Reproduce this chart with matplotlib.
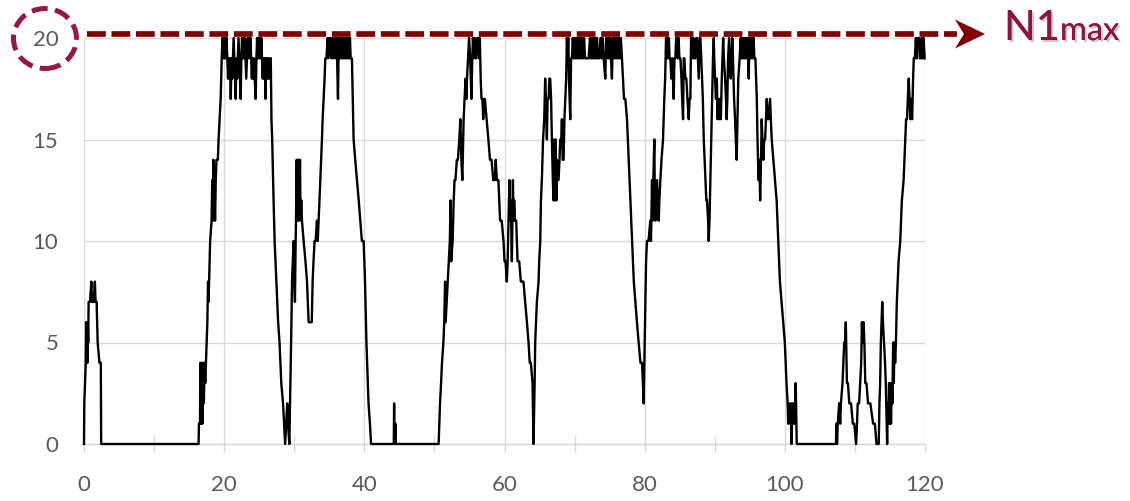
import matplotlib.pyplot as plt
from matplotlib.lines import Line2D
from matplotlib.patches import Ellipse, Polygon
import matplotlib.patheffects as pe

plt.rcParams['font.family'] = ['Lato', 'DejaVu Sans']

# N1 trace: (time, N1)
n1_trace = [
    # first small bump
    (0.0, 0), (0.04, 2), (0.25, 4), (0.3, 6), (0.36, 4), (0.42, 6), (0.48, 4), (0.54, 6),
    (0.6, 5), (0.66, 7), (0.85, 7), (1.05, 8), (1.15, 7), (1.4, 7), (1.55, 8), (1.65, 7),
    (1.8, 7), (1.95, 5), (2.2, 4), (2.4, 4), (2.45, 0),
    (16.35, 0),
    # rise to max
    (16.4, 1), (16.55, 1), (16.6, 4), (16.7, 1), (16.8, 4), (16.9, 1), (17.0, 4), (17.1, 2),
    (17.2, 4), (17.3, 3), (17.4, 4), (17.5, 5), (17.6, 6), (17.7, 8), (17.75, 7), (17.85, 8),
    (18.0, 10), (18.2, 11), (18.3, 13), (18.4, 11), (18.45, 14), (18.55, 12), (18.6, 13),
    (18.7, 11), (18.8, 13), (18.9, 14), (19.1, 14), (19.2, 15), (19.35, 16), (19.5, 17),
    (19.65, 19), (19.75, 20),
    (19.85, 19), (19.95, 20), (20.05, 19), (20.15, 20), (20.25, 19), (20.35, 20), (20.45, 19),
    (20.55, 18), (20.65, 19), (20.75, 18), (20.85, 19), (20.94, 17), (21.05, 19), (21.15, 18),
    (21.25, 19), (21.35, 20), (21.45, 19), (21.55, 18), (21.65, 17), (21.75, 19), (21.85, 18),
    (21.95, 19), (22.05, 20), (22.15, 19), (22.25, 18), (22.36, 17), (22.45, 19), (22.55, 20),
    (22.65, 19), (22.75, 20), (22.85, 19), (22.95, 20), (23.05, 19), (23.15, 18), (23.25, 19),
    (23.35, 20), (23.45, 19), (23.55, 20), (23.65, 19), (23.75, 20), (23.85, 19), (23.95, 18),
    (24.05, 19), (24.15, 18), (24.25, 19), (24.35, 18), (24.5, 17), (24.6, 19), (24.7, 20),
    (24.8, 19), (24.9, 20), (25.0, 19), (25.1, 20), (25.2, 19), (25.3, 20), (25.4, 19),
    (25.5, 18), (25.6, 19), (25.7, 18), (25.8, 19), (25.9, 17), (26.0, 19), (26.1, 18),
    (26.2, 19), (26.3, 18), (26.45, 19), (26.55, 18), (26.65, 19),
    # fall
    (26.75, 16), (26.85, 15), (27.05, 12), (27.2, 10), (27.45, 8), (27.7, 6), (27.9, 5),
    (28.15, 3), (28.4, 2), (28.55, 1), (28.7, 0), (28.85, 1), (29.0, 2), (29.1, 1), (29.3, 0),
    (29.4, 2), (29.5, 4),
    # second peak
    (29.6, 6), (29.68, 8), (29.8, 9), (29.91, 10), (30.0, 8), (30.1, 7), (30.2, 10), (30.25, 11),
    (30.35, 14), (30.42, 11), (30.5, 14), (30.58, 11), (30.66, 14), (30.74, 12), (30.82, 14),
    (30.9, 11), (31.0, 12), (31.1, 11), (31.34, 10), (31.6, 9), (31.82, 8), (32.05, 6),
    (32.5, 6), (32.62, 8), (32.75, 9), (32.9, 10), (33.05, 10), (33.24, 11), (33.35, 10),
    (33.48, 11), (33.6, 12), (33.72, 13), (33.85, 14), (33.95, 15), (34.05, 16), (34.19, 17),
    (34.33, 18), (34.43, 19), (34.6, 19), (34.75, 20), (34.85, 19), (35.0, 20), (35.14, 20),
    (35.3, 19), (35.45, 20), (35.6, 19), (35.75, 20), (35.9, 19), (36.05, 20), (36.24, 17),
    (36.35, 20), (36.45, 19), (36.55, 20), (36.65, 19), (36.75, 20), (36.85, 19), (36.95, 20),
    (37.05, 19), (37.15, 20), (37.25, 19), (37.35, 20), (37.45, 19), (37.55, 20), (37.65, 19),
    (37.75, 20), (37.85, 19), (37.95, 20), (38.05, 19), (38.23, 19),
    (38.35, 17), (38.47, 15), (38.7, 14), (38.95, 13), (39.2, 12), (39.42, 11), (39.65, 10),
    (39.9, 10), (40.1, 8), (40.3, 5), (40.5, 3), (40.6, 2), (40.8, 1), (40.96, 0),
    (44.2, 0), (44.25, 2), (44.3, 0), (44.35, 1), (44.4, 0), (44.45, 1), (44.5, 0),
    (50.6, 0),
    # third peak
    (50.7, 1), (50.8, 2), (50.95, 3), (51.08, 4), (51.28, 5), (51.4, 6), (51.52, 8), (51.6, 6),
    (51.75, 7), (52.05, 9), (52.2, 10), (52.3, 12), (52.4, 9), (52.6, 10), (52.75, 12),
    (52.87, 13), (53.0, 13), (53.2, 14), (53.35, 14), (53.55, 15), (53.7, 16), (53.85, 14),
    (53.98, 13), (54.1, 15), (54.17, 16), (54.3, 17), (54.45, 18), (54.55, 17), (54.65, 18),
    (54.8, 19), (54.94, 20), (55.1, 19), (55.28, 17), (55.4, 19), (55.5, 20), (55.6, 19),
    (55.75, 20), (55.9, 19), (56.0, 19), (56.1, 20), (56.24, 20), (56.4, 19), (56.48, 20),
    (56.6, 18), (56.72, 17), (56.85, 17), (56.96, 16), (57.1, 17), (57.2, 17), (57.45, 16),
    (57.7, 15), (57.93, 14), (58.15, 14), (58.4, 13), (58.6, 13), (58.75, 14), (58.9, 13),
    (59.13, 13), (59.25, 12), (59.37, 11), (59.6, 11), (59.86, 10),
    (60.0, 9), (60.15, 9), (60.33, 8), (60.45, 9), (60.57, 11), (60.71, 13), (60.8, 11),
    (60.9, 12), (61.05, 9), (61.2, 13), (61.3, 11), (61.38, 12), (61.5, 11), (61.67, 11),
    (61.86, 9), (62.1, 9), (62.33, 8), (62.7, 8), (62.95, 7), (63.2, 6), (63.43, 5), (63.6, 4),
    (63.76, 4), (64.0, 3), (64.14, 0), (64.3, 3), (64.38, 5), (64.5, 6), (64.62, 7),
    (64.86, 8), (64.95, 9), (65.1, 10), (65.2, 12), (65.33, 13), (65.5, 15), (65.67, 16),
    (65.8, 18), (65.9, 17), (66.05, 15), (66.15, 17), (66.29, 17), (66.4, 18), (66.52, 18),
    (66.65, 17), (66.76, 15), (66.9, 13), (67.0, 12), (67.1, 15), (67.2, 12), (67.3, 15),
    (67.4, 12), (67.48, 14), (67.6, 13), (67.71, 13), (67.85, 14), (67.95, 15), (68.1, 15),
    (68.19, 16), (68.3, 14), (68.43, 14), (68.55, 16), (68.67, 17), (68.8, 18), (68.9, 20),
    (69.0, 19), (69.1, 20), (69.2, 18), (69.38, 16), (69.5, 19), (69.62, 19), (69.75, 20),
    (69.85, 19), (69.95, 20), (70.05, 19), (70.15, 20), (70.25, 19), (70.35, 20), (70.45, 19),
    (70.55, 20), (70.65, 19), (70.75, 20), (70.85, 19), (70.95, 20), (71.05, 19), (71.15, 20),
    (71.25, 19), (71.35, 20), (71.5, 19), (71.76, 19), (72.0, 19), (72.2, 20), (72.3, 19),
    (72.4, 20), (72.5, 19), (72.6, 20), (72.7, 19), (72.8, 20), (72.9, 19), (73.0, 20),
    (73.1, 19), (73.2, 20), (73.3, 19), (73.5, 19), (73.7, 20), (73.85, 19), (74.0, 20),
    (74.15, 19), (74.38, 18), (74.5, 20), (74.62, 20), (74.75, 19), (74.85, 20), (74.95, 19),
    (75.1, 20), (75.2, 19), (75.33, 18), (75.45, 20), (75.57, 20), (75.7, 19), (75.8, 20),
    (75.9, 19), (76.0, 20), (76.1, 19), (76.2, 20), (76.3, 19), (76.4, 20), (76.5, 19),
    (76.6, 20), (76.76, 19),
    (76.9, 18), (77.05, 17), (77.24, 17), (77.48, 16), (77.6, 15), (77.71, 14), (77.95, 12),
    (78.19, 10), (78.45, 8), (78.67, 7), (78.9, 6), (79.14, 5), (79.4, 4), (79.62, 4),
    (79.75, 3), (79.86, 2), (79.95, 4), (80.1, 7), (80.2, 9), (80.33, 10), (80.55, 10),
    (80.8, 11), (80.9, 10), (81.05, 13), (81.12, 11), (81.19, 12), (81.3, 14), (81.38, 15),
    (81.45, 12), (81.52, 11), (81.65, 12), (81.76, 13), (81.9, 12), (82.0, 11), (82.1, 12),
    (82.24, 13), (82.4, 14), (82.62, 15), (82.8, 17), (82.92, 18), (83.05, 20),
    (83.15, 19), (83.25, 20), (83.35, 19), (83.45, 20), (83.55, 19), (83.67, 19), (83.8, 18),
    (83.95, 19), (84.05, 18), (84.14, 17), (84.25, 19), (84.38, 19), (84.5, 20), (84.62, 20),
    (84.75, 19), (84.85, 20), (84.95, 19), (85.1, 19), (85.25, 18), (85.35, 17), (85.48, 16),
    (85.57, 19), (85.67, 19), (85.8, 18), (85.95, 18), (86.1, 17), (86.29, 16), (86.4, 17),
    (86.52, 17), (86.62, 20), (86.76, 20), (86.85, 19), (86.95, 20), (87.05, 19), (87.24, 19),
    (87.35, 20), (87.48, 20), (87.6, 19), (87.71, 18), (87.85, 20), (87.95, 20), (88.08, 19),
    (88.19, 18), (88.3, 17), (88.43, 15), (88.55, 14), (88.67, 13), (88.8, 12), (88.9, 12),
    (89.05, 11), (89.14, 10), (89.25, 11), (89.38, 13), (89.5, 15), (89.62, 17), (89.75, 19),
    (89.86, 20),
    (89.93, 19), (90.05, 18), (90.17, 17), (90.3, 18), (90.4, 16), (90.5, 17), (90.64, 16),
    (90.75, 17), (90.87, 16), (91.0, 18), (91.1, 19), (91.2, 20), (91.3, 19), (91.48, 18),
    (91.6, 17), (91.7, 16), (91.8, 17), (91.9, 19), (92.05, 20), (92.15, 19), (92.28, 18),
    (92.4, 19), (92.5, 20), (92.6, 19), (92.76, 17), (92.9, 16), (93.0, 15), (93.13, 14),
    (93.25, 16), (93.36, 18), (93.55, 19), (93.7, 20), (93.8, 19), (93.9, 20), (94.0, 19),
    (94.1, 20), (94.2, 19), (94.3, 20), (94.4, 19), (94.5, 20), (94.6, 19), (94.7, 20),
    (94.85, 18), (94.95, 20), (95.05, 19), (95.15, 20), (95.25, 19), (95.35, 20), (95.45, 19),
    (95.55, 20), (95.65, 19), (95.8, 19), (96.0, 17), (96.1, 15), (96.25, 13), (96.35, 14),
    (96.48, 12), (96.6, 14), (96.7, 16), (96.8, 15), (96.95, 14), (97.05, 15), (97.19, 15),
    (97.3, 16), (97.42, 17), (97.55, 16), (97.66, 16), (97.9, 17), (98.0, 16), (98.13, 15),
    (98.36, 14), (98.6, 13), (98.83, 12), (99.07, 10), (99.3, 8), (99.53, 7), (99.75, 6),
    (100.0, 5), (100.12, 4), (100.24, 3), (100.4, 2), (100.48, 1), (100.6, 2), (100.73, 1),
    (100.85, 2), (100.97, 0), (101.05, 2), (101.15, 1), (101.25, 2), (101.4, 1), (101.55, 3),
    (101.65, 1), (101.7, 0),
    (107.3, 0),
    # low wiggles then last climb
    (107.35, 1), (107.45, 0), (107.55, 1), (107.75, 2), (107.9, 1), (108.0, 2), (108.23, 3),
    (108.35, 4), (108.47, 5), (108.6, 5), (108.7, 6), (108.8, 4), (108.86, 3), (109.0, 3),
    (109.2, 2), (109.45, 2), (109.7, 1), (109.9, 1), (110.17, 0), (110.3, 1), (110.4, 2),
    (110.6, 2), (110.75, 3), (110.9, 4), (111.0, 6), (111.1, 5), (111.24, 6), (111.35, 5),
    (111.48, 3), (111.65, 3), (111.87, 2), (112.2, 2), (112.6, 1), (112.85, 1), (113.08, 0),
    (113.4, 0), (113.5, 2), (113.6, 3), (113.7, 5), (113.9, 7), (114.0, 6), (114.15, 5),
    (114.3, 4), (114.4, 3), (114.53, 1), (114.6, 0), (114.68, 2), (114.78, 1), (114.87, 3),
    (114.95, 1), (115.05, 3), (115.15, 1), (115.26, 3), (115.35, 2), (115.45, 5), (115.55, 3),
    (115.65, 5), (115.74, 4), (115.85, 5), (115.98, 7), (116.1, 8), (116.23, 9), (116.47, 10),
    (116.7, 12), (116.95, 13), (117.19, 15), (117.3, 16), (117.44, 16), (117.55, 17),
    (117.68, 18), (117.8, 17), (117.92, 16), (118.05, 17), (118.16, 16), (118.3, 18),
    (118.4, 19), (118.55, 19), (118.7, 20), (118.8, 19), (118.9, 20), (119.05, 20),
    (119.13, 20), (119.25, 19), (119.37, 19), (119.5, 20), (119.6, 19), (119.7, 19),
    (119.8, 20), (119.95, 19),
]
t = [p[0] for p in n1_trace]
n1 = [p[1] for p in n1_trace]

x_major = [0, 20, 40, 60, 80, 100, 120]
x_minor = [10, 30, 50, 70, 90, 110]
y_ticks = [0, 5, 10, 15, 20]

W, H = 1130, 501
fig = plt.figure(figsize=(W / 100, H / 100), dpi=100)
ax = fig.add_axes([84 / W, 57 / H, 841 / W, 406 / H])

ax.plot(t, n1, color='black', lw=1.7, clip_on=False, zorder=3)

ax.set_xlim(0, 120)
ax.set_ylim(0, 20)
ax.set_xticks(x_major)
ax.set_xticks(x_minor, minor=True)
ax.set_yticks(y_ticks)
ax.grid(which='major', color='#d9d9d9', lw=1.0)
ax.set_axisbelow(True)
for s in ['top', 'right', 'left']:
    ax.spines[s].set_visible(False)
ax.spines['bottom'].set_color('#d9d9d9')
ax.spines['bottom'].set_linewidth(1.0)

ax.tick_params(axis='y', length=0, pad=18.5, labelsize=16, labelcolor='#595959')
ax.tick_params(axis='x', which='major', direction='out', length=5.5, width=1,
               color='#d9d9d9', pad=17, labelsize=16, labelcolor='#595959')
ax.tick_params(axis='x', which='minor', direction='inout', length=11, width=1,
               color='#d9d9d9')

# dashed arrow marking the maximum
def fx(px):
    return px / W

def fy(py):
    return 1 - py / H

fig.add_artist(Line2D([fx(87), fx(957)], [fy(34), fy(34)], transform=fig.transFigure,
                      color='#800000', lw=4.1, dashes=(3.3, 1.0), solid_capstyle='butt',
                      dash_capstyle='butt'))
fig.add_artist(Polygon([(fx(955), fy(19.5)), (fx(985), fy(34)), (fx(955), fy(48.5)),
                        (fx(964), fy(34))], closed=True, transform=fig.transFigure,
                       facecolor='#800000', edgecolor='none'))

# dashed circle round the "20" label
fig.add_artist(Ellipse((fx(45), fy(38.5)), 63 / W, 60 / H, transform=fig.transFigure,
                       fill=False, edgecolor='#9a1641', lw=3.6,
                       linestyle=(0, (3.2, 1.5))))

shadow = [pe.withSimplePatchShadow(offset=(1.5, -1.5), shadow_rgbFace='#888888', alpha=0.45),
          pe.Normal()]
fig.text(fx(1004), fy(40), 'N1', fontsize=30, color='#8c1538', va='baseline', ha='left',
         path_effects=shadow)
fig.text(fx(1060), fy(40), 'max', fontsize=23.5, color='#8c1538', va='baseline', ha='left',
         path_effects=shadow)

fig.savefig('out.png', dpi=100)
